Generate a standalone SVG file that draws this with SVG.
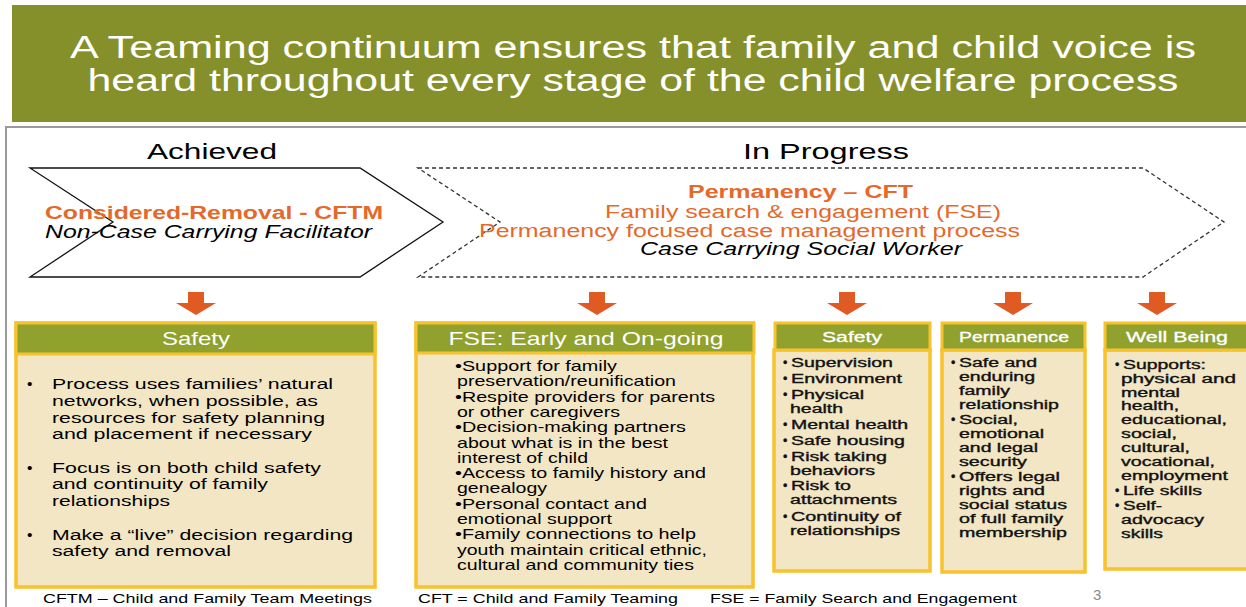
<svg xmlns="http://www.w3.org/2000/svg" xmlns:xlink="http://www.w3.org/1999/xlink" width="1246" height="607" viewBox="0 0 1246 607">
<style>
text{font-family:"Liberation Sans",Arial,sans-serif}
.title{fill:#fff;font-size:31px}
.cap{fill:#000;font-size:22px}
.or{fill:#E4692B;font-size:18px}
.orb{fill:#E4692B;font-size:18px;font-weight:bold}
.it{fill:#000;font-size:18px;font-style:italic}
.hdr{fill:#90A12E;stroke:#F8C22C;stroke-width:3}
.body{fill:#F2E6C4;stroke:#F8C22C;stroke-width:3.5}
.ht{fill:#fff;font-size:19px;text-anchor:middle}
.hs{fill:#fff;font-size:14px;text-anchor:middle;stroke:#fff;stroke-width:0.3}
.b1{fill:#000;font-size:15.5px}
.b2{fill:#000;font-size:14.5px}
.bs{fill:#111;font-size:12.5px;stroke:#111;stroke-width:0.35}
.ft{fill:#000;font-size:13.5px}
.arrow{fill:#E05A24}
</style>
<defs>
<path id="dn" class="arrow" d="M-8,292 H8 V303 H20 L0,315 L-20,303 H-8 Z"/>
</defs>
<rect x="0" y="0" width="1246" height="607" fill="#fff"/>
<g id="banner">
<rect x="12" y="5" width="1240" height="117" fill="#85902A"/>
<text class="title" x="633" y="58" text-anchor="middle" textLength="1126" lengthAdjust="spacingAndGlyphs">A Teaming continuum ensures that family and child voice is</text>
<text class="title" x="633" y="91" text-anchor="middle" textLength="1091" lengthAdjust="spacingAndGlyphs">heard throughout every stage of the child welfare process</text>
</g>
<g id="frame" fill="none" stroke="#9A9A9A" stroke-width="2">
<path d="M6,607 V127 H1246"/>
</g>
<text class="cap" x="147" y="159" textLength="130" lengthAdjust="spacingAndGlyphs">Achieved</text>
<text class="cap" x="743" y="159" textLength="166" lengthAdjust="spacingAndGlyphs">In Progress</text>
<g id="achieved">
<path d="M30,168 H360 L443,222 L360,277 H30 L113,222 Z" fill="#fff" stroke="#111" stroke-width="1.3"/>
<text class="orb" x="45" y="219" textLength="338" lengthAdjust="spacingAndGlyphs">Considered-Removal - CFTM</text>
<text class="it" x="45" y="238" textLength="327" lengthAdjust="spacingAndGlyphs">Non-Case Carrying Facilitator</text>
</g>
<g id="inprogress">
<path d="M418,168 H1143 L1224,222 L1143,277 H418 L500,222 Z" fill="#fff" stroke="#333" stroke-width="1.3" stroke-dasharray="4 3"/>
<text class="orb" x="688" y="198" textLength="225" lengthAdjust="spacingAndGlyphs">Permanency – CFT</text>
<text class="or" x="605" y="218" textLength="396" lengthAdjust="spacingAndGlyphs">Family search &amp; engagement (FSE)</text>
<text class="or" x="479" y="237" textLength="541" lengthAdjust="spacingAndGlyphs">Permanency focused case management process</text>
<text class="it" x="640" y="255" textLength="322" lengthAdjust="spacingAndGlyphs">Case Carrying Social Worker</text>
</g>
<g id="connectors">
<use xlink:href="#dn" href="#dn" x="196" y="0"/>
<use xlink:href="#dn" href="#dn" x="597" y="0"/>
<use xlink:href="#dn" href="#dn" x="847" y="0"/>
<use xlink:href="#dn" href="#dn" x="1013" y="0"/>
<use xlink:href="#dn" href="#dn" x="1157" y="0"/>
</g>
<g id="box-safety">
<rect class="body" x="16" y="323" width="359" height="264"/>
<rect class="hdr" x="16" y="323" width="359" height="31"/>
<text class="ht" x="196" y="345" textLength="68" lengthAdjust="spacingAndGlyphs">Safety</text>
<g class="b1">
<text x="27" y="389">•</text>
<text x="52" y="389" textLength="281" lengthAdjust="spacingAndGlyphs">Process uses families’ natural</text>
<text x="52" y="406" textLength="266" lengthAdjust="spacingAndGlyphs">networks, when possible, as</text>
<text x="52" y="423" textLength="273" lengthAdjust="spacingAndGlyphs">resources for safety planning</text>
<text x="52" y="439" textLength="260" lengthAdjust="spacingAndGlyphs">and placement if necessary</text>
<text x="27" y="473">•</text>
<text x="52" y="473" textLength="269" lengthAdjust="spacingAndGlyphs">Focus is on both child safety</text>
<text x="52" y="489" textLength="216" lengthAdjust="spacingAndGlyphs">and continuity of family</text>
<text x="52" y="506" textLength="118" lengthAdjust="spacingAndGlyphs">relationships</text>
<text x="27" y="540">•</text>
<text x="52" y="540" textLength="301" lengthAdjust="spacingAndGlyphs">Make a “live” decision regarding</text>
<text x="52" y="556" textLength="179" lengthAdjust="spacingAndGlyphs">safety and removal</text>
</g>
</g>
<g id="box-fse">
<rect class="body" x="416" y="323" width="337" height="264"/>
<rect class="hdr" x="416" y="323" width="338" height="30"/>
<text class="ht" x="586" y="345" font-size="20" textLength="275" lengthAdjust="spacingAndGlyphs">FSE: Early and On-going</text>
<g class="b2">
<text x="455" y="371" textLength="162" lengthAdjust="spacingAndGlyphs">•Support for family</text>
<text x="457" y="386" textLength="219" lengthAdjust="spacingAndGlyphs">preservation/reunification</text>
<text x="455" y="401.5" textLength="260" lengthAdjust="spacingAndGlyphs">•Respite providers for parents</text>
<text x="457" y="417" textLength="163" lengthAdjust="spacingAndGlyphs">or other caregivers</text>
<text x="455" y="432" textLength="231" lengthAdjust="spacingAndGlyphs">•Decision-making partners</text>
<text x="457" y="447.5" textLength="211" lengthAdjust="spacingAndGlyphs">about what is in the best</text>
<text x="457" y="463" textLength="131" lengthAdjust="spacingAndGlyphs">interest of child</text>
<text x="455" y="478" textLength="251" lengthAdjust="spacingAndGlyphs">•Access to family history and</text>
<text x="457" y="493" textLength="90" lengthAdjust="spacingAndGlyphs">genealogy</text>
<text x="455" y="508.5" textLength="192" lengthAdjust="spacingAndGlyphs">•Personal contact and</text>
<text x="457" y="524" textLength="155" lengthAdjust="spacingAndGlyphs">emotional support</text>
<text x="455" y="539" textLength="241" lengthAdjust="spacingAndGlyphs">•Family connections to help</text>
<text x="457" y="554.5" textLength="250" lengthAdjust="spacingAndGlyphs">youth maintain critical ethnic,</text>
<text x="457" y="570" textLength="237" lengthAdjust="spacingAndGlyphs">cultural and community ties</text>
</g>
</g>
<g id="box-safety2">
<rect class="body" x="774" y="350" width="156" height="221"/>
<rect class="hdr" x="775" y="323" width="155" height="27"/>
<text class="hs" x="852" y="342" textLength="60" lengthAdjust="spacingAndGlyphs">Safety</text>
<g class="bs">
<text x="783" y="367">•</text><text x="791" y="367" textLength="102" lengthAdjust="spacingAndGlyphs">Supervision</text>
<text x="783" y="383">•</text><text x="791" y="383" textLength="111" lengthAdjust="spacingAndGlyphs">Environment</text>
<text x="783" y="399">•</text><text x="791" y="399" textLength="73" lengthAdjust="spacingAndGlyphs">Physical</text>
<text x="790" y="413" textLength="53" lengthAdjust="spacingAndGlyphs">health</text>
<text x="783" y="429">•</text><text x="791" y="429" textLength="117" lengthAdjust="spacingAndGlyphs">Mental health</text>
<text x="783" y="445">•</text><text x="791" y="445" textLength="114" lengthAdjust="spacingAndGlyphs">Safe housing</text>
<text x="783" y="461">•</text><text x="791" y="461" textLength="96" lengthAdjust="spacingAndGlyphs">Risk taking</text>
<text x="790" y="475" textLength="85" lengthAdjust="spacingAndGlyphs">behaviors</text>
<text x="783" y="490">•</text><text x="791" y="490" textLength="60" lengthAdjust="spacingAndGlyphs">Risk to</text>
<text x="790" y="504" textLength="107" lengthAdjust="spacingAndGlyphs">attachments</text>
<text x="783" y="521">•</text><text x="791" y="521" textLength="110" lengthAdjust="spacingAndGlyphs">Continuity of</text>
<text x="790" y="535" textLength="110" lengthAdjust="spacingAndGlyphs">relationships</text>
</g>
</g>
<g id="box-permanence">
<rect class="body" x="942" y="350" width="143" height="222"/>
<rect class="hdr" x="942" y="323" width="143" height="27"/>
<text class="hs" x="1014" y="342" textLength="110" lengthAdjust="spacingAndGlyphs">Permanence</text>
<g class="bs">
<text x="951" y="367">•</text><text x="959" y="367" textLength="78" lengthAdjust="spacingAndGlyphs">Safe and</text>
<text x="959" y="381" textLength="76" lengthAdjust="spacingAndGlyphs">enduring</text>
<text x="959" y="395" textLength="51" lengthAdjust="spacingAndGlyphs">family</text>
<text x="959" y="409" textLength="100" lengthAdjust="spacingAndGlyphs">relationship</text>
<text x="951" y="424">•</text><text x="959" y="424" textLength="59" lengthAdjust="spacingAndGlyphs">Social,</text>
<text x="959" y="438" textLength="85" lengthAdjust="spacingAndGlyphs">emotional</text>
<text x="959" y="452" textLength="79" lengthAdjust="spacingAndGlyphs">and legal</text>
<text x="959" y="466" textLength="68" lengthAdjust="spacingAndGlyphs">security</text>
<text x="951" y="481">•</text><text x="959" y="481" textLength="101" lengthAdjust="spacingAndGlyphs">Offers legal</text>
<text x="959" y="495" textLength="86" lengthAdjust="spacingAndGlyphs">rights and</text>
<text x="959" y="509" textLength="108" lengthAdjust="spacingAndGlyphs">social status</text>
<text x="959" y="523" textLength="104" lengthAdjust="spacingAndGlyphs">of full family</text>
<text x="959" y="537" textLength="108" lengthAdjust="spacingAndGlyphs">membership</text>
</g>
</g>
<g id="box-wellbeing">
<rect class="body" x="1105" y="350" width="160" height="219"/>
<rect class="hdr" x="1105" y="323" width="160" height="27"/>
<text class="hs" x="1177" y="342" textLength="102" lengthAdjust="spacingAndGlyphs">Well Being</text>
<g class="bs">
<text x="1115" y="369">•</text><text x="1123" y="369" textLength="83" lengthAdjust="spacingAndGlyphs">Supports:</text>
<text x="1121" y="383" textLength="115" lengthAdjust="spacingAndGlyphs">physical  and</text>
<text x="1121" y="397" textLength="59" lengthAdjust="spacingAndGlyphs">mental</text>
<text x="1121" y="410" textLength="58" lengthAdjust="spacingAndGlyphs">health,</text>
<text x="1121" y="424" textLength="106" lengthAdjust="spacingAndGlyphs">educational,</text>
<text x="1121" y="438" textLength="56" lengthAdjust="spacingAndGlyphs">social,</text>
<text x="1121" y="452" textLength="69" lengthAdjust="spacingAndGlyphs">cultural,</text>
<text x="1121" y="466" textLength="94" lengthAdjust="spacingAndGlyphs">vocational,</text>
<text x="1121" y="480" textLength="107" lengthAdjust="spacingAndGlyphs">employment</text>
<text x="1115" y="495">•</text><text x="1123" y="495" textLength="79" lengthAdjust="spacingAndGlyphs">Life skills</text>
<text x="1115" y="510">•</text><text x="1123" y="510" textLength="39" lengthAdjust="spacingAndGlyphs">Self-</text>
<text x="1121" y="524" textLength="83" lengthAdjust="spacingAndGlyphs">advocacy</text>
<text x="1121" y="538" textLength="42" lengthAdjust="spacingAndGlyphs">skills</text>
</g>
</g>
<g id="footer">
<text class="ft" x="43" y="603" textLength="329" lengthAdjust="spacingAndGlyphs">CFTM – Child and Family Team Meetings</text>
<text class="ft" x="418" y="603" textLength="260" lengthAdjust="spacingAndGlyphs">CFT = Child and Family Teaming</text>
<text class="ft" x="710" y="603" textLength="307" lengthAdjust="spacingAndGlyphs">FSE = Family Search and Engagement</text>
<text x="1093" y="600" fill="#8A8A8A" font-size="15">3</text>
</g>
</svg>
